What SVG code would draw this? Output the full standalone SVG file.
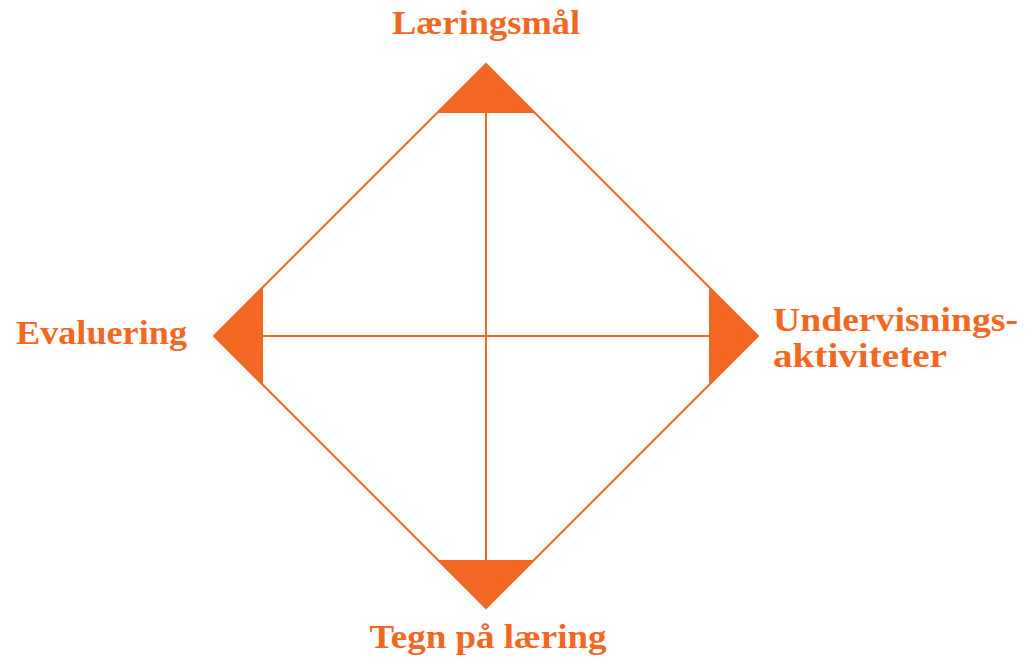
<svg xmlns="http://www.w3.org/2000/svg" width="1036" height="661" viewBox="0 0 1036 661">
<style>
.ln{stroke:#F26722;stroke-width:2;fill:none}
.tri{fill:#F26722}
.lbl{font-family:"Liberation Serif","Times New Roman",serif;font-weight:bold;font-size:33px;fill:#F26722}
</style>
<rect width="1036" height="661" fill="#fff"/>
<g id="connectors">
<polygon class="ln" points="486,64 758,336 486,608 214,336"/>
<line class="ln" x1="486" y1="113" x2="486" y2="560"/>
<line class="ln" x1="262" y1="336" x2="710" y2="336"/>
</g>
<g id="node-laeringsmal">
<polygon class="tri" points="486,64 535,113 437,113"/>
<text class="lbl" x="486" y="34" text-anchor="middle" textLength="188" lengthAdjust="spacingAndGlyphs">Læringsmål</text>
</g>
<g id="node-undervisning">
<polygon class="tri" points="758,336 709,287 709,385"/>
<text class="lbl" x="773" y="331" textLength="245" lengthAdjust="spacingAndGlyphs">Undervisnings-</text>
<text class="lbl" x="773" y="367" textLength="174" lengthAdjust="spacingAndGlyphs">aktiviteter</text>
</g>
<g id="node-tegn">
<polygon class="tri" points="486,608 535,560 437,560"/>
<text class="lbl" x="488" y="648" text-anchor="middle" textLength="237" lengthAdjust="spacingAndGlyphs">Tegn på læring</text>
</g>
<g id="node-evaluering">
<polygon class="tri" points="214,336 263,287 263,385"/>
<text class="lbl" x="16" y="344" textLength="171" lengthAdjust="spacingAndGlyphs">Evaluering</text>
</g>
</svg>
